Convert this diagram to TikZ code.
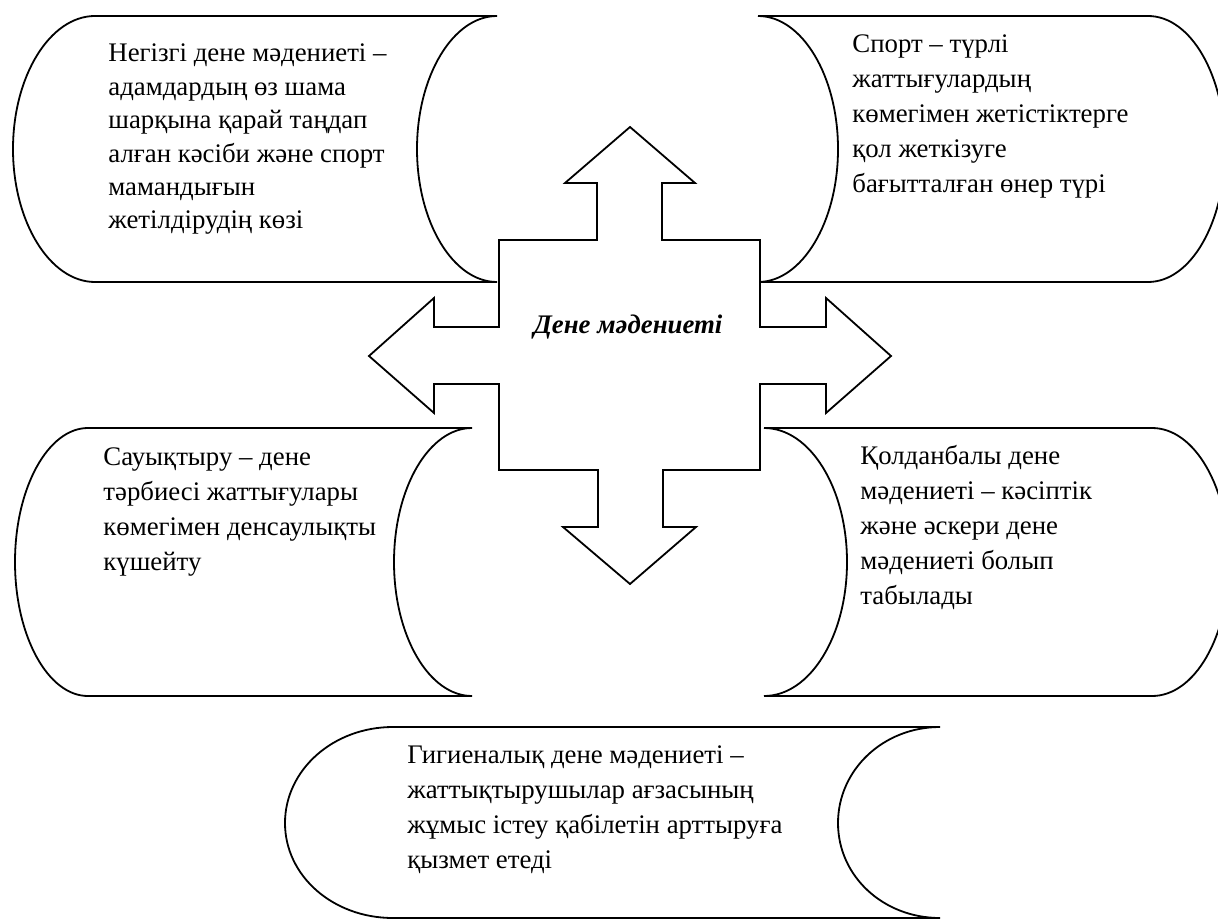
\documentclass[tikz,border=0pt]{standalone}
\usepackage{fontspec}
\setmainfont{Liberation Serif}
\begin{document}
\begin{tikzpicture}[x=0.5pt, y=-0.5pt,
    scroll/.style={draw=black, line width=0.9pt, fill=white},
    cross/.style={draw=black, line width=0.9pt, fill=white},
    desc/.style={anchor=base west, inner sep=0pt, align=left, font=\fontsize{13.4}{17.5}\selectfont},
    title/.style={anchor=base, inner sep=0pt, font=\fontsize{13.4}{15}\selectfont\bfseries\itshape}
]
\useasboundingbox (0,0) rectangle (1218,919);
% stored-data boxes
\draw[scroll] (95,16) -- (497,16) .. controls (453,16) and (417,76) .. (417,149) .. controls (417,222) and (453,282) .. (497,282)
    -- (95,282) .. controls (50,282) and (13,222) .. (13,149) .. controls (13,76) and (50,16) .. cycle;
\draw[scroll] (758,16) -- (1148,16) .. controls (1191,16) and (1225,76) .. (1225,149) .. controls (1225,222) and (1191,282) .. (1148,282)
    -- (758,282) .. controls (802,282) and (838,222) .. (838,149) .. controls (838,76) and (802,16) .. cycle;
\draw[scroll] (88,428) -- (472,428) .. controls (429,428) and (394,488) .. (394,562) .. controls (394,636) and (429,696) .. (472,696)
    -- (88,696) .. controls (48,696) and (15,636) .. (15,562) .. controls (15,488) and (48,428) .. cycle;
\draw[scroll] (764,428) -- (1152,428) .. controls (1195,428) and (1229,488) .. (1229,562) .. controls (1229,636) and (1195,696) .. (1152,696)
    -- (764,696) .. controls (810,696) and (847,636) .. (847,562) .. controls (847,488) and (810,428) .. cycle;
\draw[scroll] (393,727) -- (940,727) .. controls (883,727) and (838,770) .. (838,823) .. controls (838,876) and (883,918) .. (940,918)
    -- (393,918) .. controls (333,918) and (285,876) .. (285,823) .. controls (285,770) and (333,727) .. cycle;
% four-way arrow
\draw[cross] (630,127) -- (695,183) -- (662,183) -- (662,240) -- (760,240) -- (760,327) -- (826,327) -- (826,298)
    -- (891,356) -- (826,413) -- (826,384) -- (760,384) -- (760,470) -- (663,470) -- (663,527) -- (696,527)
    -- (630,584) -- (563,527) -- (598,527) -- (598,470) -- (499,470) -- (499,384) -- (434,384) -- (434,413)
    -- (369,356) -- (434,298) -- (434,327) -- (499,327) -- (499,240) -- (597,240) -- (597,183) -- (565,183) -- cycle;
\node[title] (culture) at (628,333) {Дене мәдениеті};
% base anchor sits on the last line
\node[desc, font=\fontsize{13.4}{16.7}\selectfont] (basic) at (108,229) {Негізгі дене мәдениеті –\\адамдардың өз шама\\шарқына қарай таңдап\\алған кәсіби және спорт\\мамандығын\\жетілдірудің көзі};
\node[desc] (sport) at (852,193) {Спорт – түрлі\\жаттығулардың\\көмегімен жетістіктерге\\қол жеткізуге\\бағытталған өнер түрі};
\node[desc] (health) at (103,570) {Сауықтыру – дене\\тәрбиесі жаттығулары\\көмегімен денсаулықты\\күшейту};
\node[desc] (applied) at (860,604) {Қолданбалы дене\\мәдениеті – кәсіптік\\және әскери дене\\мәдениеті болып\\табылады};
\node[desc] (hygiene) at (407,868) {Гигиеналық дене мәдениеті –\\жаттықтырушылар ағзасының\\жұмыс істеу қабілетін арттыруға\\қызмет етеді};
\end{tikzpicture}
\end{document}
